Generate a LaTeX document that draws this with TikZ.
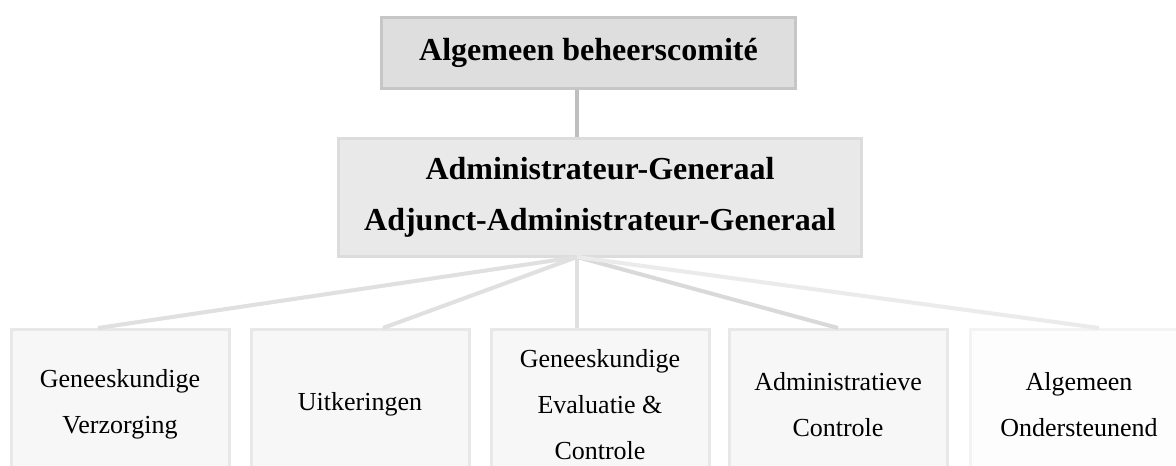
\documentclass[tikz,border=0pt]{standalone}
\usepackage{fontspec}
\setmainfont{Liberation Serif}
\usetikzlibrary{positioning}
\definecolor{headfill}{HTML}{DEDEDE}
\definecolor{headline}{HTML}{C6C6C6}
\definecolor{mainfill}{HTML}{E9E9E9}
\definecolor{mainline}{HTML}{DCDCDC}
\definecolor{unitfill}{HTML}{F7F7F7}
\definecolor{unitline}{HTML}{E8E8E8}
\definecolor{lastfill}{HTML}{FDFDFD}
\definecolor{lastline}{HTML}{F3F3F3}
\tikzset{head node/.style={rectangle,fill=headfill,draw=headline,line width=3pt,inner sep=0pt,minimum width=414pt,minimum height=71pt,font=\fontsize{32}{51}\selectfont\bfseries},
         main node/.style={rectangle,fill=mainfill,draw=mainline,line width=3pt,inner sep=0pt,align=center,minimum width=523pt,minimum height=118pt,font=\fontsize{32}{51}\selectfont\bfseries},
         unit node/.style={rectangle,fill=unitfill,draw=unitline,line width=3pt,inner sep=0pt,align=center,minimum width=218pt,minimum height=150pt,font=\fontsize{26}{46}\selectfont},
         last node/.style={unit node,fill=lastfill,draw=lastline},
         link/.style={draw=black!25,line width=4pt},
         sub link/.style={draw=black!12,line width=4pt}
}

\begin{document}
\begin{tikzpicture}[x=1pt,y=-1pt]
\useasboundingbox (0,0) rectangle (1176,466);
\clip (0,0) rectangle (1176,466);
\fill[white] (0,0) rectangle (1176,466);
\node [head node] (0) at (588.5,53) {Algemeen beheerscomité};
\node [main node] (1) at (600,197.5) {Administrateur-Generaal\\Adjunct-Administrateur-Generaal};
\coordinate (hub) at (577,257);
% diensten
\node [unit node] (2) at (120,404.5) {Geneeskundige\\Verzorging};
\node [unit node] (3) at (360,404.5) {Uitkeringen};
\node [unit node] (4) at (600,404.5) {Geneeskundige\\Evaluatie \&\\Controle};
\node [unit node] (5) at (838,404.5) {Administratieve\\Controle};
\node [last node] (6) at (1079,404.5) {Algemeen\\Ondersteunend};
\draw [link] (0.south -| hub) -- (1.north -| hub);
\draw [sub link] (hub) -- ([xshift=-22pt]2.north);
\draw [sub link] (hub) -- ([xshift=23pt]3.north);
\draw [sub link] (hub) -- (4.north -| hub);
\draw [sub link,draw=black!15] (hub) -- (5.north);
\draw [sub link,draw=black!8] (hub) -- ([xshift=20pt]6.north);
\end{tikzpicture}
\end{document}
